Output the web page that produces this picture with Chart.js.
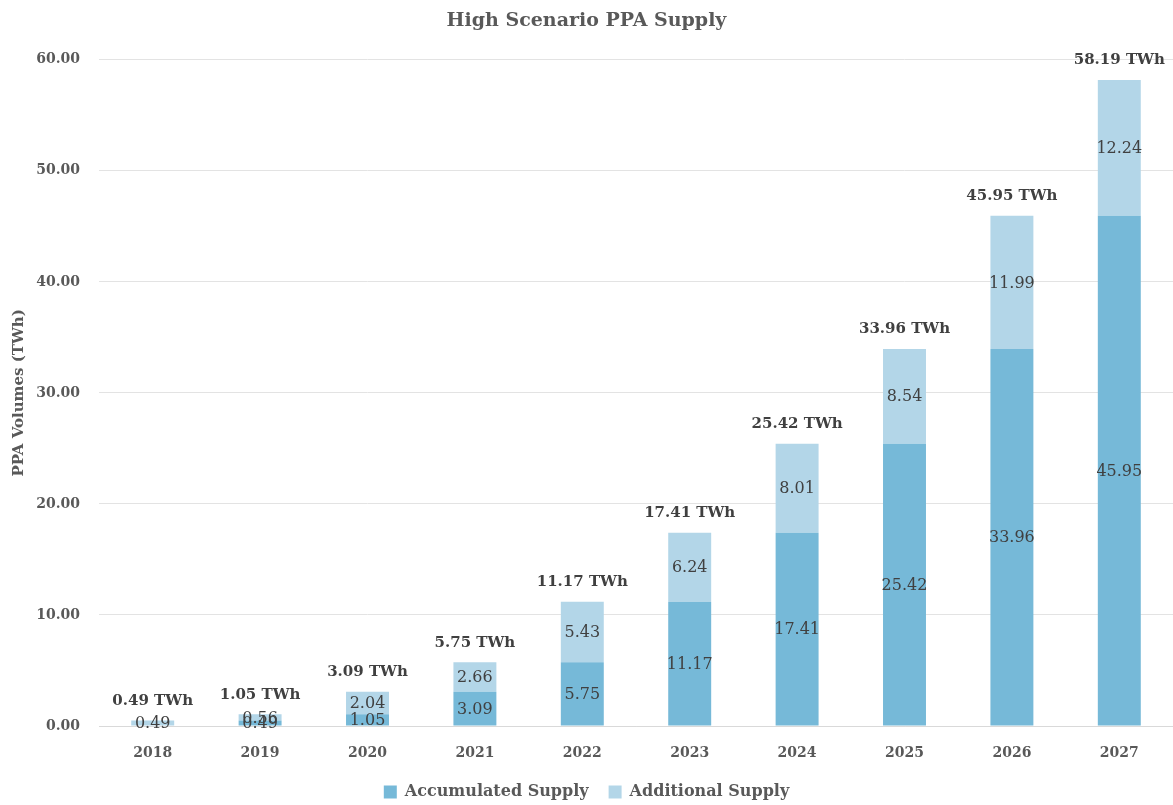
<!DOCTYPE html>
<html>
<head>
<meta charset="utf-8">
<script src="https://cdn.jsdelivr.net/npm/chart.js@4.4.1/dist/chart.umd.min.js"></script>
<style>
  html, body { margin: 0; padding: 0; background: #fff; }
  #wrap { width: 1173px; height: 805px; }
</style>
</head>
<body>
<div id="wrap"><canvas id="ppa"></canvas></div>
<script>
// dados
const anos = ['2018', '2019', '2020', '2021', '2022', '2023', '2024', '2025', '2026', '2027'];
const acumulado = [0, 0.49, 1.05, 3.09, 5.75, 11.17, 17.41, 25.42, 33.96, 45.95];
const adicional = [0.49, 0.56, 2.04, 2.66, 5.43, 6.24, 8.01, 8.54, 11.99, 12.24];
const totais = [0.49, 1.05, 3.09, 5.75, 11.17, 17.41, 25.42, 33.96, 45.95, 58.19];

const FONTE = "'DejaVu Serif', serif";
const CINZA = '#595959';
const TEXTO = '#404040';

Chart.defaults.font.family = FONTE;
Chart.defaults.color = CINZA;

// rotulos dentro das barras + total acima
const rotulosPlugin = {
  id: 'rotulos',
  afterInit(chart) {
    // legenda mais baixa, sem ocupar tanto espaco
    const fitOriginal = chart.legend.fit;
    chart.legend.fit = function () {
      fitOriginal.call(this);
      this.height = 41;
    };
  },
  afterDatasetsDraw(chart) {
    const ctx = chart.ctx;
    ctx.save();
    ctx.textAlign = 'center';
    ctx.textBaseline = 'middle';
    ctx.fillStyle = TEXTO;
    ctx.font = "16px " + FONTE;
    chart.data.datasets.forEach((ds, di) => {
      const meta = chart.getDatasetMeta(di);
      meta.data.forEach((bar, i) => {
        const v = ds.data[i];
        if (!v) return;
        ctx.fillText(v.toFixed(2), bar.x, (bar.y + bar.base) / 2 + 1);
      });
    });
    ctx.font = "bold 15px " + FONTE;
    ctx.textBaseline = 'bottom';
    const topo = chart.getDatasetMeta(1);
    topo.data.forEach((bar, i) => {
      ctx.fillText(totais[i].toFixed(2) + ' TWh', bar.x, bar.y - 12);
    });
    ctx.restore();
  }
};

new Chart(document.getElementById('ppa'), {
  type: 'bar',
  data: {
    labels: anos,
    datasets: [
      { label: 'Accumulated Supply', data: acumulado, backgroundColor: '#76B9D8' },
      { label: 'Additional Supply', data: adicional, backgroundColor: '#B3D6E8' }
    ]
  },
  options: {
    responsive: true,
    maintainAspectRatio: false,
    animation: false,
    categoryPercentage: 0.8,
    barPercentage: 0.5,
    layout: { padding: 0 },
    plugins: {
      title: {
        display: true,
        text: 'High Scenario PPA Supply',
        color: CINZA,
        font: { size: 19, weight: 'bold' },
        padding: { top: 10, bottom: 27 }
      },
      legend: {
        position: 'bottom',
        labels: {
          boxWidth: 13,
          boxHeight: 13,
          padding: 20,
          color: CINZA,
          font: { size: 16, weight: 'bold' }
        }
      },
      tooltip: { enabled: false }
    },
    scales: {
      x: {
        stacked: true,
        grid: { display: false, drawTicks: false },
        border: { color: '#d9d9d9' },
        ticks: { padding: 19, color: CINZA, font: { size: 14, weight: 'bold' } },
        afterFit: s => { s.height = 38; }
      },
      y: {
        stacked: true,
        min: 0,
        max: 60,
        grid: { color: '#e3e3e3', drawTicks: false },
        border: { display: false },
        ticks: {
          stepSize: 10,
          padding: 19,
          color: CINZA,
          font: { size: 14, weight: 'bold' },
          callback: v => v.toFixed(2)
        },
        title: {
          display: true,
          text: 'PPA Volumes (TWh)',
          color: CINZA,
          font: { size: 15, weight: 'bold' },
          padding: { top: 10 }
        },
        afterFit: s => { s.width = 99; }
      }
    }
  },
  plugins: [rotulosPlugin]
});
</script>
</body>
</html>
